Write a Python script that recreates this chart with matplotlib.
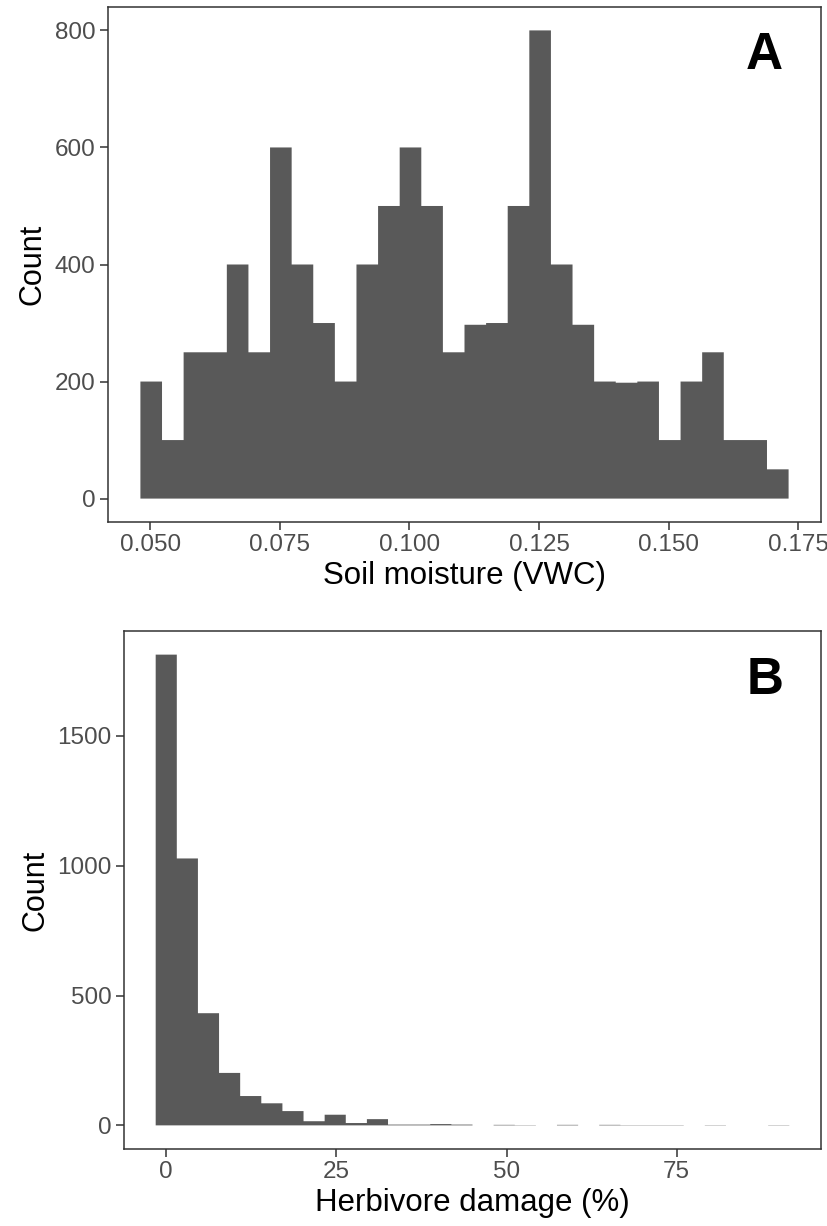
import matplotlib
matplotlib.use("Agg")
import matplotlib.pyplot as plt
import numpy as np

plt.rcParams['font.family'] = ['Liberation Sans', 'DejaVu Sans']

# panel A: soil moisture, 30 bins
soil_lo, soil_hi = 0.04812, 0.17316
soil_counts = [200, 100, 250, 250, 400, 250, 600, 400, 300, 200,
               400, 500, 600, 500, 250, 297, 300, 500, 800, 400,
               297, 200, 198, 200, 100, 200, 250, 100, 100, 50]
soil_ticks = [0.050, 0.075, 0.100, 0.125, 0.150, 0.175]
soil_ylim = (-40, 840)
soil_yticks = [0, 200, 400, 600, 800]

# panel B: herbivore damage, 30 bins centred on 0 ... 90
herb_lo, herb_hi = -1.55, 91.55
herb_counts = [1813, 1028, 432, 202, 113, 85, 55, 16, 41, 9,
               24, 3, 3, 5, 3, 0, 2, 1, 0, 2,
               0, 2, 1, 1, 1, 0, 1, 0, 0, 1]
herb_ticks = [0, 25, 50, 75]
herb_ylim = (-91, 1904)
herb_yticks = [0, 500, 1000, 1500]

fill = '#595959'
border = '#333333'
ticklab = '#4D4D4D'

W, H = 827, 1226
fig = plt.figure(figsize=(W / 100, H / 100), dpi=100)


def panel(rect, lo, hi, counts, xticks, xfmt, ylim, yticks, xlabel, letter):
    ax = fig.add_axes(rect)
    edges = np.linspace(lo, hi, len(counts) + 1)
    ax.stairs(counts, edges, fill=True, color=fill, linewidth=0, snap=False)
    span = hi - lo
    ax.set_xlim(lo - 0.05 * span, hi + 0.05 * span)
    ax.set_ylim(*ylim)
    ax.set_xticks(xticks)
    ax.set_xticklabels([xfmt.format(t) for t in xticks])
    ax.set_yticks(yticks)
    ax.tick_params(length=5.5, width=1.1, color=border, labelcolor=ticklab,
                   labelsize=17.5, pad=3.5)
    for s in ax.spines.values():
        s.set_color(border)
        s.set_linewidth(1.1)
    ax.set_xlabel(xlabel, fontsize=22.5, labelpad=3)
    ax.set_ylabel('Count', fontsize=22, labelpad=5)
    ax.text(0.92, 0.905, letter, transform=ax.transAxes, fontsize=37,
            fontweight='bold', ha='center', va='center')
    return ax


panel([108 / W, 1 - 522 / H, 713 / W, 515 / H], soil_lo, soil_hi, soil_counts,
      soil_ticks, '{:.3f}', soil_ylim, soil_yticks, 'Soil moisture (VWC)', 'A')
panel([124 / W, 1 - 1149 / H, 697 / W, 518 / H], herb_lo, herb_hi, herb_counts,
      herb_ticks, '{:d}', herb_ylim, herb_yticks, 'Herbivore damage (%)', 'B')

fig.savefig('out.png', dpi=100)
